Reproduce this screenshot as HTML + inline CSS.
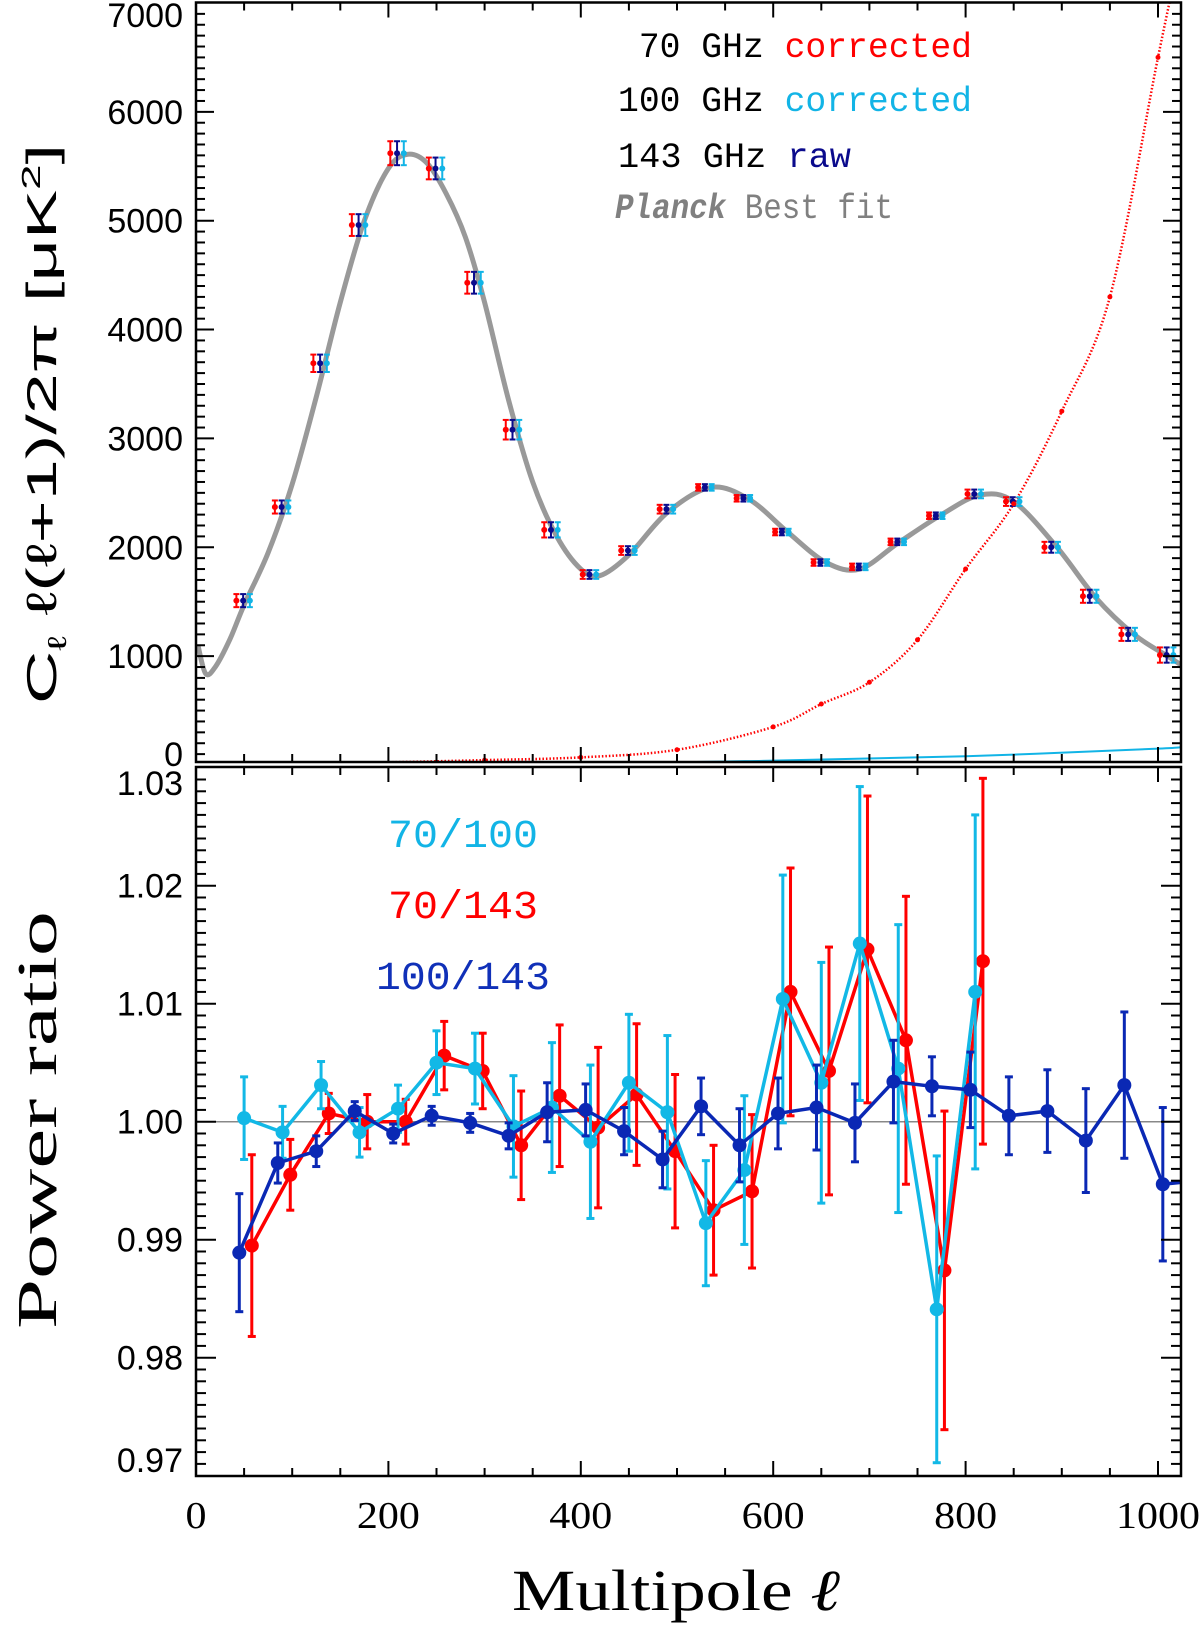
<!DOCTYPE html>
<html><head><meta charset="utf-8"><style>
html,body{margin:0;padding:0;background:#fff}
svg{display:block}
</style></head><body>
<svg id="chart" xmlns="http://www.w3.org/2000/svg" width="1200" height="1626" viewBox="0 0 1200 1626">
<defs>
<clipPath id="clipTop"><rect x="196" y="2.5" width="985" height="760"/></clipPath>
<clipPath id="clipBot"><rect x="196" y="767" width="985" height="709"/></clipPath>
</defs>
<g id="topPanel"></g>
<g id="botPanel"></g>
<g id="labels" font-family="'Liberation Mono', monospace">
<text x="618" y="57" font-size="35" textLength="354" lengthAdjust="spacingAndGlyphs" xml:space="preserve"> 70 GHz <tspan fill="#ff0000">corrected</tspan></text>
<text x="618" y="111" font-size="35" textLength="354" lengthAdjust="spacingAndGlyphs">100 GHz <tspan fill="#12b4e6">corrected</tspan></text>
<text x="618" y="167" font-size="35" textLength="233" lengthAdjust="spacingAndGlyphs">143 GHz <tspan fill="#0a0a8c">raw</tspan></text>
<text x="615" y="218" font-size="35" fill="#808080" textLength="278" lengthAdjust="spacingAndGlyphs"><tspan font-weight="bold" font-style="italic">Planck</tspan> Best fit</text>
<text x="463" y="847" font-size="40" fill="#12b4e6" text-anchor="middle" textLength="150" lengthAdjust="spacingAndGlyphs">70/100</text>
<text x="463" y="918" font-size="40" fill="#ff0000" text-anchor="middle" textLength="150" lengthAdjust="spacingAndGlyphs">70/143</text>
<text x="463" y="989" font-size="40" fill="#1030b8" text-anchor="middle" textLength="174" lengthAdjust="spacingAndGlyphs">100/143</text>
<text transform="translate(56,424) rotate(-90)" font-family="'Liberation Sans', sans-serif" font-size="42" text-anchor="middle" textLength="560" lengthAdjust="spacingAndGlyphs">C<tspan font-size="26" dy="10">ℓ</tspan><tspan dy="-10"> ℓ(ℓ+1)/2π [μK</tspan><tspan font-size="26" dy="-16">2</tspan><tspan dy="16">]</tspan></text>
<text transform="translate(56,1120) rotate(-90)" font-family="'Liberation Serif', serif" font-size="56" text-anchor="middle" textLength="418" lengthAdjust="spacingAndGlyphs">Power ratio</text>
<text x="676" y="1610" font-family="'Liberation Serif', serif" font-size="58" text-anchor="middle" textLength="328" lengthAdjust="spacingAndGlyphs">Multipole <tspan font-style="italic">ℓ</tspan></text>
</g>
</svg>
<script>
// ---- top panel data ----
const fitL = [2,10,20,35,50,75,100,125,150,175,200,220,240,260,280,300,325,350,375,400,420,450,490,535,575,615,655,690,730,775,815,850,895,935,975,1010,1024];
const fitV = [1100,840,900,1150,1470,1950,2580,3380,4250,5000,5480,5610,5530,5250,4850,4250,3350,2600,2100,1800,1740,1930,2320,2550,2440,2140,1860,1800,2040,2300,2480,2420,2000,1540,1200,1000,920];
const binL = [49,89,129,169,209,249,289,329,369,409,449,489,529,569,609,649,689,729,769,809,849,889,929,969,1009];
const binV = [1510,2370,3690,4960,5620,5480,4430,3080,2160,1750,1970,2350,2550,2450,2140,1860,1820,2050,2290,2490,2420,2000,1550,1200,1010];
const binErr = [60,60,80,100,110,100,100,90,70,40,40,40,30,30,30,30,30,30,30,40,40,50,60,60,70];
const noiseL = [0,100,200,300,400,500,600,650,700,750,800,850,900,950,1000,1024];
const noiseRed = [0,10,25,45,70,140,350,560,760,1150,1800,2400,3250,4300,6500,7500];
const noiseCyanL = [0,400,600,800,1000,1024];
const noiseCyan = [0,15,40,80,150,170];
const noiseNavy = [0,3,6,10,18,20];
// ---- bottom panel data ----
const blueL = [45,85,125,165,205,245,285,325,365,405,445,485,525,565,605,645,685,725,765,805,845,885,925,965,1005,1040];
const blueV = [0.9889,0.9965,0.9975,1.0009,0.9990,1.0005,0.9999,0.9988,1.0008,1.0010,0.9992,0.9968,1.0013,0.9980,1.0007,1.0012,0.9999,1.0034,1.0030,1.0027,1.0005,1.0009,0.9984,1.0031,0.9947,0.9950];
const blueE = [0.005,0.0017,0.0013,0.0008,0.0008,0.0008,0.0008,0.0011,0.0025,0.0022,0.002,0.0024,0.0024,0.0031,0.003,0.0036,0.0033,0.0035,0.0025,0.0032,0.0033,0.0035,0.0044,0.0062,0.0065,0];
const redL = [58,98,138,178,218,258,298,338,378,418,458,498,538,578,618,658,698,738,778,818];
const redV = [0.9895,0.9955,1.0007,1.0000,1.0000,1.0056,1.0043,0.9980,1.0022,0.9995,1.0023,0.9975,0.9925,0.9941,1.0110,1.0043,1.0146,1.0069,0.9874,1.0136];
const redE = [0.0077,0.003,0.0017,0.0023,0.0019,0.0029,0.0032,0.0046,0.006,0.0068,0.006,0.0065,0.0055,0.0065,0.0105,0.0105,0.013,0.0122,0.0135,0.0155];
const cyanL = [50,90,130,170,210,250,290,330,370,410,450,490,530,570,610,650,690,730,770,810];
const cyanV = [1.0003,0.9991,1.0031,0.9991,1.0011,1.0050,1.0045,0.9996,1.0012,0.9983,1.0033,1.0008,0.9914,0.9959,1.0104,1.0033,1.0151,1.0045,0.9841,1.0110];
const cyanE = [0.0035,0.0022,0.002,0.0021,0.002,0.0027,0.003,0.0043,0.0055,0.0065,0.0058,0.0065,0.0053,0.0063,0.0105,0.0102,0.0133,0.0122,0.013,0.015];
const xTicks = [0,200,400,600,800,1000];
const topTicks = [0,1000,2000,3000,4000,5000,6000,7000];
const botTicks = ["0.97","0.98","0.99","1.00","1.01","1.02","1.03"];

const NS='http://www.w3.org/2000/svg';
const X0=196,X1=1181;
const xs = l => 196 + l*0.962;
const yT = v => 765 - v*0.10886;
const yB = v => 1121.7 - (v-1)*11800;
function mk(tag, parent, attrs){const e=document.createElementNS(NS,tag);for(const k in attrs)e.setAttribute(k,attrs[k]);parent.appendChild(e);return e;}
function smoothPath(px,py){let d='M'+px[0]+','+py[0];for(let i=0;i<px.length-1;i++){const p0=i>0?i-1:i,p3=i+2<px.length?i+2:i+1;const c1x=px[i]+(px[i+1]-px[p0])/6,c1y=py[i]+(py[i+1]-py[p0])/6;const c2x=px[i+1]-(px[p3]-px[i])/6,c2y=py[i+1]-(py[p3]-py[i])/6;d+=' C'+c1x+','+c1y+' '+c2x+','+c2y+' '+px[i+1]+','+py[i+1];}return d;}

const topG=document.getElementById('topPanel'), botG=document.getElementById('botPanel');
const tclip=mk('g',topG,{'clip-path':'url(#clipTop)'});


let el=mk('path',tclip,{d:smoothPath(fitL.map(xs),fitV.map(yT)),fill:'none',stroke:'#999','stroke-width':5});


el=mk('path',tclip,{d:smoothPath(noiseL.map(xs),noiseRed.map(yT)),fill:'none',stroke:'#ff0000','stroke-width':2.5,'stroke-dasharray':'1.5 2'});


el=mk('path',tclip,{d:smoothPath(noiseCyanL.map(xs),noiseCyan.map(yT)),fill:'none',stroke:'#12b4e6','stroke-width':2});


el=mk('path',tclip,{d:smoothPath(noiseCyanL.map(xs),noiseNavy.map(yT)),fill:'none',stroke:'#0a0a8c','stroke-width':2});


const topSeries=[{c:'#ff0000',o:-7,n:'70ghz'},{c:'#0a0a8c',o:0,n:'143ghz'},{c:'#12b4e6',o:7,n:'100ghz'}];
topSeries.forEach(s=>{binL.forEach((l,i)=>{const cx=xs(l+s.o),cy=yT(binV[i]),t=yT(binV[i]+binErr[i]),b=yT(binV[i]-binErr[i]);
 const g=mk('g',tclip,{stroke:s.c,'stroke-width':2,fill:s.c});
 
 
 mk('line',g,{x1:cx,x2:cx,y1:t,y2:b});mk('line',g,{x1:cx-3,x2:cx+3,y1:t,y2:t});mk('line',g,{x1:cx-3,x2:cx+3,y1:b,y2:b});
 mk('circle',g,{cx:cx,cy:cy,r:3,stroke:'none'});});});
noiseL.forEach((l,i)=>{if(l<300||l>1000)return;const c=mk('circle',tclip,{cx:xs(l),cy:yT(noiseRed[i]),r:2.5,fill:'#ff0000'});
 
 });
const bclip=mk('g',botG,{'clip-path':'url(#clipBot)'});


el=mk('line',bclip,{x1:X0,x2:X1,y1:yB(1),y2:yB(1),stroke:'#888','stroke-width':1.5});


function series(L,V,E,col,name){const g=mk('g',bclip,{stroke:col,fill:col});
 
 
 mk('polyline',g,{points:L.map((l,i)=>xs(l)+','+yB(V[i])).join(' '),fill:'none','stroke-width':3.5});
 L.forEach((l,i)=>{if(!E[i])return;const cx=xs(l),t=yB(V[i]+E[i]),b=yB(V[i]-E[i]);
  mk('line',g,{x1:cx,x2:cx,y1:t,y2:b,'stroke-width':3});mk('line',g,{x1:cx-4,x2:cx+4,y1:t,y2:t,'stroke-width':3});mk('line',g,{x1:cx-4,x2:cx+4,y1:b,y2:b,'stroke-width':3});
  const p=mk('circle',g,{cx:cx,cy:yB(V[i]),r:7,stroke:'none'});
  
  });}
series(redL,redV,redE,'#ff0000','70-143');
series(cyanL,cyanV,cyanE,'#12b8e6','70-100');
series(blueL,blueV,blueE,'#0a28b4','100-143');
function frame(parent,y0,y1,name){const r=mk('rect',parent,{x:X0,y:y0,width:X1-X0,height:y1-y0,fill:'none',stroke:'#000','stroke-width':2.5});
 
 
 const g=mk('g',parent,{stroke:'#000','stroke-width':2});
 
 
 for(let l=50;l<=1020;l+=50){const len=(l%200===0)?15:8;mk('line',g,{x1:xs(l),x2:xs(l),y1:y1,y2:y1-len});mk('line',g,{x1:xs(l),x2:xs(l),y1:y0,y2:y0+len});}}
frame(topG,2.5,762,'top-frame');frame(botG,767,1476,'bottom-frame');
let tg=mk('g',topG,{stroke:'#000','stroke-width':2});


for(let v=100;v<7000;v+=100){const len=(v%1000===0)?18:9;const yy=yT(v);mk('line',tg,{x1:X0,x2:X0+len,y1:yy,y2:yy});mk('line',tg,{x1:X1,x2:X1-len,y1:yy,y2:yy});}
tg=mk('g',botG,{stroke:'#000','stroke-width':2});


for(let k=-29;k<30;k++){const v=1+k*0.001;const len=(k%10===0)?20:10;const yy=yB(v);mk('line',tg,{x1:X0,x2:X0+len,y1:yy,y2:yy});mk('line',tg,{x1:X1,x2:X1-len,y1:yy,y2:yy});}
topTicks.forEach(v=>{let yy=yT(v)+12;if(v===7000)yy=27;if(v===0)yy=766;
 const t=mk('text',topG,{x:183,y:yy,'text-anchor':'end','font-family':"'Liberation Sans', sans-serif",'font-size':34});t.textContent=v;
 
 });
botTicks.forEach(s=>{let yy=yB(parseFloat(s))+12;if(s==='1.03')yy=795;if(s==='0.97')yy=1472;
 const t=mk('text',botG,{x:183,y:yy,'text-anchor':'end','font-family':"'Liberation Sans', sans-serif",'font-size':34});t.textContent=s;
 
 });
xTicks.forEach(v=>{const t=mk('text',botG,{x:xs(v),y:1528,'text-anchor':'middle','font-family':"'Liberation Serif', serif",'font-size':38,textLength:String(v).length*21,lengthAdjust:'spacingAndGlyphs'});t.textContent=v;
 
 });
</script>
</body></html>
